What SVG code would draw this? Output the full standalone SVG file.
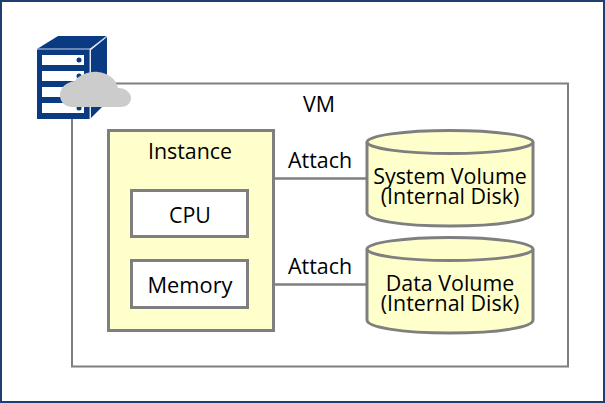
<svg xmlns="http://www.w3.org/2000/svg" width="605" height="403" viewBox="0 0 605 403">
<style>
text{font-family:"Open Sans","Noto Sans","Liberation Sans",sans-serif;font-size:21.400px;fill:#000;text-anchor:middle}
.b{stroke:#7f7f7f;stroke-width:3}
.y{fill:#ffffcc}
.w{fill:#fff}
.l{fill:none;stroke:#7f7f7f;stroke-width:2.500}
.n{fill:#0a3a82}
</style>
<rect width="605" height="403" fill="#fff"/>
<rect x="1" y="1" width="603" height="401" fill="none" stroke="#1f3f73" stroke-width="2"/>
<g id="vm">
<rect x="72" y="83.500" width="496" height="283" fill="#fff" stroke="#7f7f7f" stroke-width="2"/>
<text x="319" y="112">VM</text>
</g>
<g id="connectors">
<line class="l" x1="274" y1="178.500" x2="367" y2="178.500"/>
<line class="l" x1="274" y1="284.500" x2="367" y2="284.500"/>
<text x="320" y="167.500">Attach</text>
<text x="320" y="273.500">Attach</text>
</g>
<g id="instance">
<rect class="y b" x="108.500" y="130.500" width="165" height="200"/>
<text x="190" y="159">Instance</text>
</g>
<g id="cpu">
<rect class="w b" x="131.500" y="190.500" width="116" height="46"/>
<text x="190" y="223">CPU</text>
</g>
<g id="memory">
<rect class="w b" x="131.500" y="260.500" width="116" height="47"/>
<text x="190" y="293" textLength="85" lengthAdjust="spacingAndGlyphs">Memory</text>
</g>
<g id="system-volume">
<path class="y b" d="M367 142V213C367 220 400 226 450 226S533 220 533 213V142"/>
<ellipse class="y b" cx="450" cy="142" rx="83" ry="11.500"/>
<text x="450" y="184">System Volume<tspan x="450" dy="20">(Internal Disk)</tspan></text>
</g>
<g id="data-volume">
<path class="y b" d="M367 249V320C367 327 400 333 450 333S533 327 533 320V249"/>
<ellipse class="y b" cx="450" cy="249" rx="83" ry="11.500"/>
<text x="450" y="291">Data Volume<tspan x="450" dy="20">(Internal Disk)</tspan></text>
</g>
<g id="server-icon">
<path class="n" d="M37 49L58 36H107L90 49ZM91 50L107 37V102L91 118Z"/>
<rect class="n" x="37" y="49" width="53" height="70"/>
<path d="M37 49H90V119M90 49L107 36" fill="none" stroke="#c9d4e6" stroke-width="1"/>
<rect x="42" y="55" width="42" height="10" fill="#fff"/>
<rect x="42" y="71" width="42" height="10" fill="#fff"/>
<rect x="42" y="87" width="42" height="10" fill="#fff"/>
<rect x="42" y="103" width="42" height="10" fill="#fff"/>
<circle class="n" cx="79" cy="60" r="2.500"/>
<circle class="n" cx="79" cy="76" r="2.500"/>
<circle class="n" cx="79" cy="108" r="2.500"/>
<path fill="#cccccc" d="M73 107C64 107 60 101 60 95C60 88 66 82 75 81C78 75 90 71 98 72C107 73 116 78 118 88C126 88 131 93 131 98C131 103 127 107 121 107Z"/>
</g>
</svg>
